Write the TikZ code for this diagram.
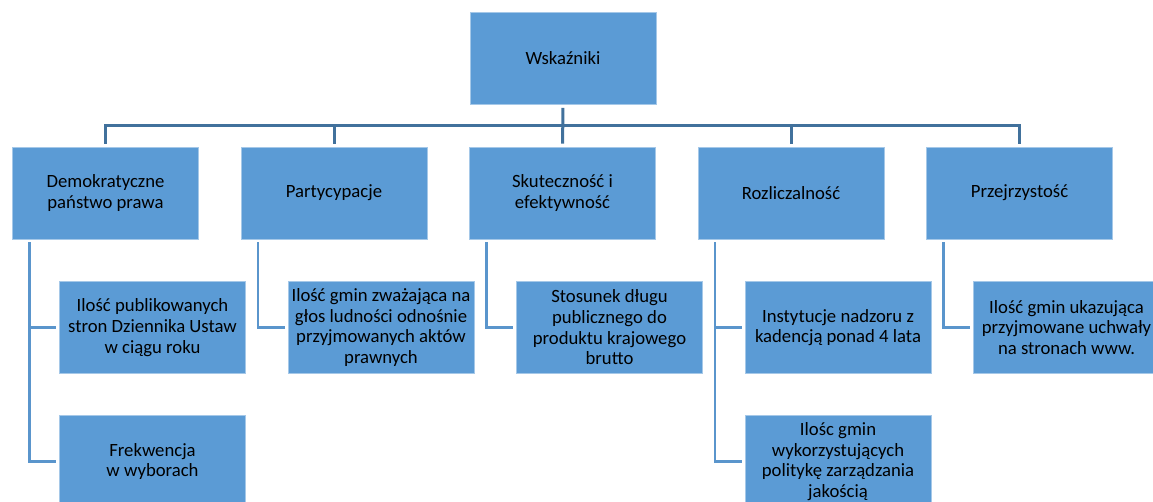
\documentclass[tikz,border=0pt]{standalone}
\usepackage{fontspec}
\setmainfont{Carlito}
\usetikzlibrary{positioning}
\definecolor{boxblue}{HTML}{5B9BD5}
\definecolor{busblue}{HTML}{41719C}
\definecolor{linkblue}{HTML}{5A95CC}
\tikzset{
  ind/.style={fill=boxblue, draw=boxblue!55!white, line width=0.8pt,
    minimum width=186pt, minimum height=92pt, inner sep=0pt,
    align=center, text=black, font=\fontsize{18.7}{20.7}\selectfont},
  bus/.style={draw=busblue, line width=3pt},
  link/.style={draw=linkblue, line width=2.6pt, shorten <=3pt, shorten >=3pt}
}
\begin{document}
\begin{tikzpicture}[x=1pt, y=-1pt]
                \clip (0,0) rectangle (1153,501);
                \useasboundingbox (0,0) rectangle (1153,501);

                % Top box
                \node [ind] (top) at (563,58.5) {Wskaźniki};%

                % First level boxes
                \node [ind] (l1) at (105.5,193) {Demokratyczne\\państwo prawa};%
                \node [ind] (l2) at (334,193) {Partycypacje};%
                \node [ind] (l3) at (562.5,193) {Skuteczność i\\efektywność};%
                \node [ind] (l4) at (791,193) {Rozliczalność};%
                \node [ind] (l5) at (1019.5,193) {Przejrzystość};%

                % Second level boxes
                \node [ind] (c1a) at (152.5,327.5) {Ilość publikowanych\\stron Dziennika Ustaw\\w ciągu roku};%
                \node [ind] (c1b) at (152.5,461.5) {Frekwencja\\w wyborach};%
                \node [ind] (c2a) at (381,327.5) {Ilość gmin zważająca na\\głos ludności odnośnie\\przyjmowanych aktów\\prawnych};%
                \node [ind] (c3a) at (609.5,327.5) {Stosunek długu\\publicznego do\\produktu krajowego\\brutto};%
                \node [ind] (c4a) at (838,327.5) {Instytucje nadzoru z\\kadencją ponad 4 lata};%
                \node [ind] (c4b) at (838,461.5) {Ilośc gmin\\wykorzystujących\\politykę zarządzania\\jakością};%
                \node [ind] (c5a) at (1066.5,327.5) {Ilość gmin ukazująca\\przyjmowane uchwały\\na stronach www.};%

                % Bus coordinate
                \coordinate (bus) at (563,125.5);

                % Drawing segment top l3
                \draw [bus, shorten <=3pt, shorten >=3pt] (top) -- (l3);%

                % Drawing segment l1 bus l5
                \draw [bus, shorten <=3pt, shorten >=3pt] (l1.north) |- (bus) -| (l5.north);%

                % Drawing segments l2 bus and l4 bus
                \draw [bus, shorten <=3pt] (l2.north) -- (l2.north |- bus);%
                \draw [bus, shorten <=3pt] (l4.north) -- (l4.north |- bus);%

                % Drawing segments l1 c1a c1b
                \draw [link] ([xshift=-76pt]l1.south) |- (c1a.west);%
                \draw [link] ([xshift=-76pt]l1.south) |- (c1b.west);%

                % Drawing segment l2 c2a
                \draw [link] ([xshift=-76pt]l2.south) |- (c2a.west);%

                % Drawing segment l3 c3a
                \draw [link] ([xshift=-76pt]l3.south) |- (c3a.west);%

                % Drawing segments l4 c4a c4b
                \draw [link] ([xshift=-76pt]l4.south) |- (c4a.west);%
                \draw [link] ([xshift=-76pt]l4.south) |- (c4b.west);%

                % Drawing segment l5 c5a
                \draw [link] ([xshift=-76pt]l5.south) |- (c5a.west);%
\end{tikzpicture}
\end{document}
